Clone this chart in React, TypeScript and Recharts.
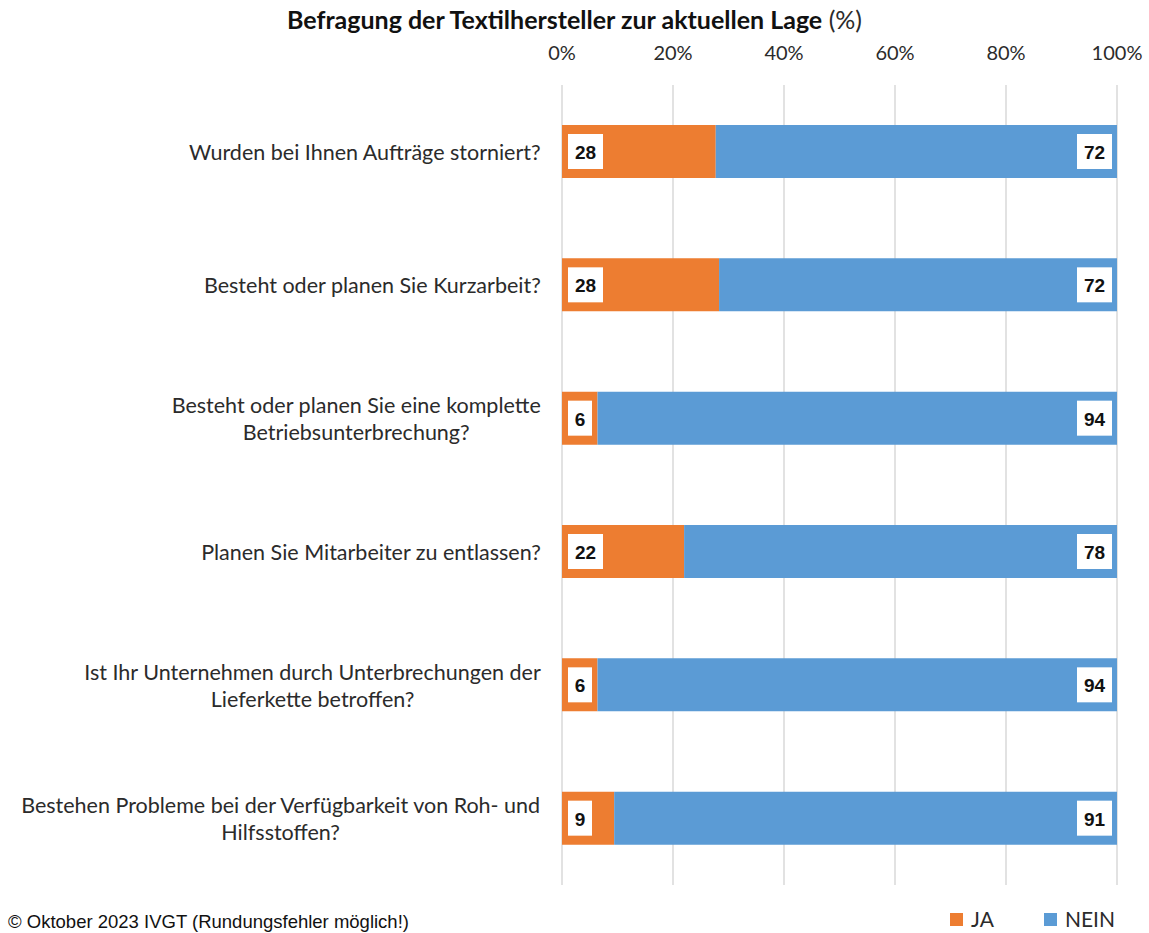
import React from "react";
import { BarChart, Bar, XAxis, YAxis, CartesianGrid, LabelList, Legend } from "recharts";

const questions = [
  "Wurden bei Ihnen Aufträge storniert?",
  "Besteht oder planen Sie Kurzarbeit?",
  "Besteht oder planen Sie eine komplette\nBetriebsunterbrechung?",
  "Planen Sie Mitarbeiter zu entlassen?",
  "Ist Ihr Unternehmen durch Unterbrechungen der\nLieferkette betroffen?",
  "Bestehen Probleme bei der Verfügbarkeit von Roh- und\nHilfsstoffen?",
];
const jaValues = [27.7, 28.3, 6.4, 22.0, 6.4, 9.4];
const neinValues = [72.3, 71.7, 93.6, 78.0, 93.6, 90.6];
const xTicks = [0, 20, 40, 60, 80, 100];

const data = questions.map((q, i) => ({ q, ja: jaValues[i], nein: neinValues[i] }));

const ORANGE = "#ED7D31";
const BLUE = "#5B9BD5";
const LABEL_FONT = "Lato, 'Open Sans', sans-serif";
const TEXT = "#2b2b2b";

let ctx: CanvasRenderingContext2D | null = null;
function measure(text: string, font: string) {
  if (!ctx) ctx = document.createElement("canvas").getContext("2d");
  if (!ctx) return text.length * 10;
  ctx.font = font;
  return ctx.measureText(text).width;
}

const CategoryTick = (props: any) => {
  const { x, y, payload } = props;
  const lines: string[] = String(payload.value).split("\n");
  const size = 21.5;
  const blockW = Math.max(...lines.map((l) => measure(l, `${size}px Lato`)));
  const right = x - 13;
  const cx = right - blockW / 2;
  const lh = 27;
  const top = y - ((lines.length - 1) * lh) / 2;
  return (
    <g>
      {lines.map((l, i) => (
        <text
          key={i}
          x={cx}
          y={top + i * lh}
          textAnchor="middle"
          dominantBaseline="central"
          fontFamily={LABEL_FONT}
          fontSize={size}
          fill={TEXT}
        >
          {l}
        </text>
      ))}
    </g>
  );
};

const PercentTick = (props: any) => {
  const { x, y, payload } = props;
  return (
    <text x={x} y={y - 25} textAnchor="middle" dominantBaseline="central" fontFamily={LABEL_FONT} fontSize={20} fill={TEXT}>
      {payload.value}%
    </text>
  );
};

const boxLabel = (side: "left" | "right") => (props: any) => {
  const { x, y, width, height, value } = props;
  const txt = String(Math.round(Number(value)));
  const w = txt.length > 1 ? 35 : 24;
  const h = 35;
  const bx = side === "left" ? x + 6 : x + width - 5 - w;
  const by = y + height / 2 - h / 2;
  return (
    <g>
      <rect x={bx} y={by} width={w} height={h} fill="#fff" />
      <text
        x={bx + w / 2}
        y={by + h / 2 + 1}
        textAnchor="middle"
        dominantBaseline="central"
        fontFamily="'Liberation Sans', Arial, sans-serif"
        fontWeight="bold"
        fontSize={19}
        fill="#111"
      >
        {txt}
      </text>
    </g>
  );
};

const LegendContent = (props: any) => {
  const items = props.payload || [];
  return (
    <div style={{ display: "flex", gap: 50, fontFamily: LABEL_FONT, fontSize: 21, color: TEXT, lineHeight: "24px" }}>
      {items.map((it: any) => (
        <div key={it.value} style={{ display: "flex", alignItems: "center", gap: 8 }}>
          <span style={{ display: "inline-block", width: 13, height: 13, background: it.color }} />
          <span>{it.value}</span>
        </div>
      ))}
    </div>
  );
};

export default function App() {
  return (
    <div style={{ position: "absolute", left: 0, top: 0, width: 1149, height: 933, background: "#fff", overflow: "hidden" }}>
      <div
        style={{
          position: "absolute",
          top: 3,
          left: 0,
          width: 1149,
          textAlign: "center",
          fontFamily: LABEL_FONT,
          fontSize: 25,
          lineHeight: "32px",
          color: "#111",
        }}
      >
        <b>Befragung der Textilhersteller zur aktuellen Lage</b> <span style={{ color: TEXT }}>(%)</span>
      </div>
      <BarChart
        width={1149}
        height={933}
        data={data}
        layout="vertical"
        margin={{ top: 55, right: 32, bottom: 48, left: 0 }}
        barSize={53}
      >
        <CartesianGrid horizontal={false} stroke="#d9d9d9" strokeWidth={1.5} />
        <XAxis
          type="number"
          orientation="top"
          domain={[0, 100]}
          ticks={xTicks}
          height={30}
          axisLine={false}
          tickLine={false}
          tick={<PercentTick />}
          interval={0}
        />
        <YAxis
          type="category"
          dataKey="q"
          width={562}
          axisLine={false}
          tickLine={false}
          tick={<CategoryTick />}
          interval={0}
        />
        <Legend
          content={<LegendContent />}
          height={0}
          wrapperStyle={{ position: "absolute", left: 950, top: 907, width: 200, height: 0 }}
        />
        <Bar dataKey="ja" name="JA" stackId="a" fill={ORANGE} isAnimationActive={false}>
          <LabelList dataKey="ja" content={boxLabel("left")} />
        </Bar>
        <Bar dataKey="nein" name="NEIN" stackId="a" fill={BLUE} isAnimationActive={false}>
          <LabelList dataKey="nein" content={boxLabel("right")} />
        </Bar>
      </BarChart>
      <div
        style={{
          position: "absolute",
          left: 8,
          top: 911,
          fontFamily: "'Liberation Sans', Arial, sans-serif",
          fontSize: 18.5,
          lineHeight: "21px",
          color: "#111",
          whiteSpace: "nowrap",
        }}
      >
        © Oktober 2023 IVGT (Rundungsfehler möglich!)
      </div>
    </div>
  );
}
